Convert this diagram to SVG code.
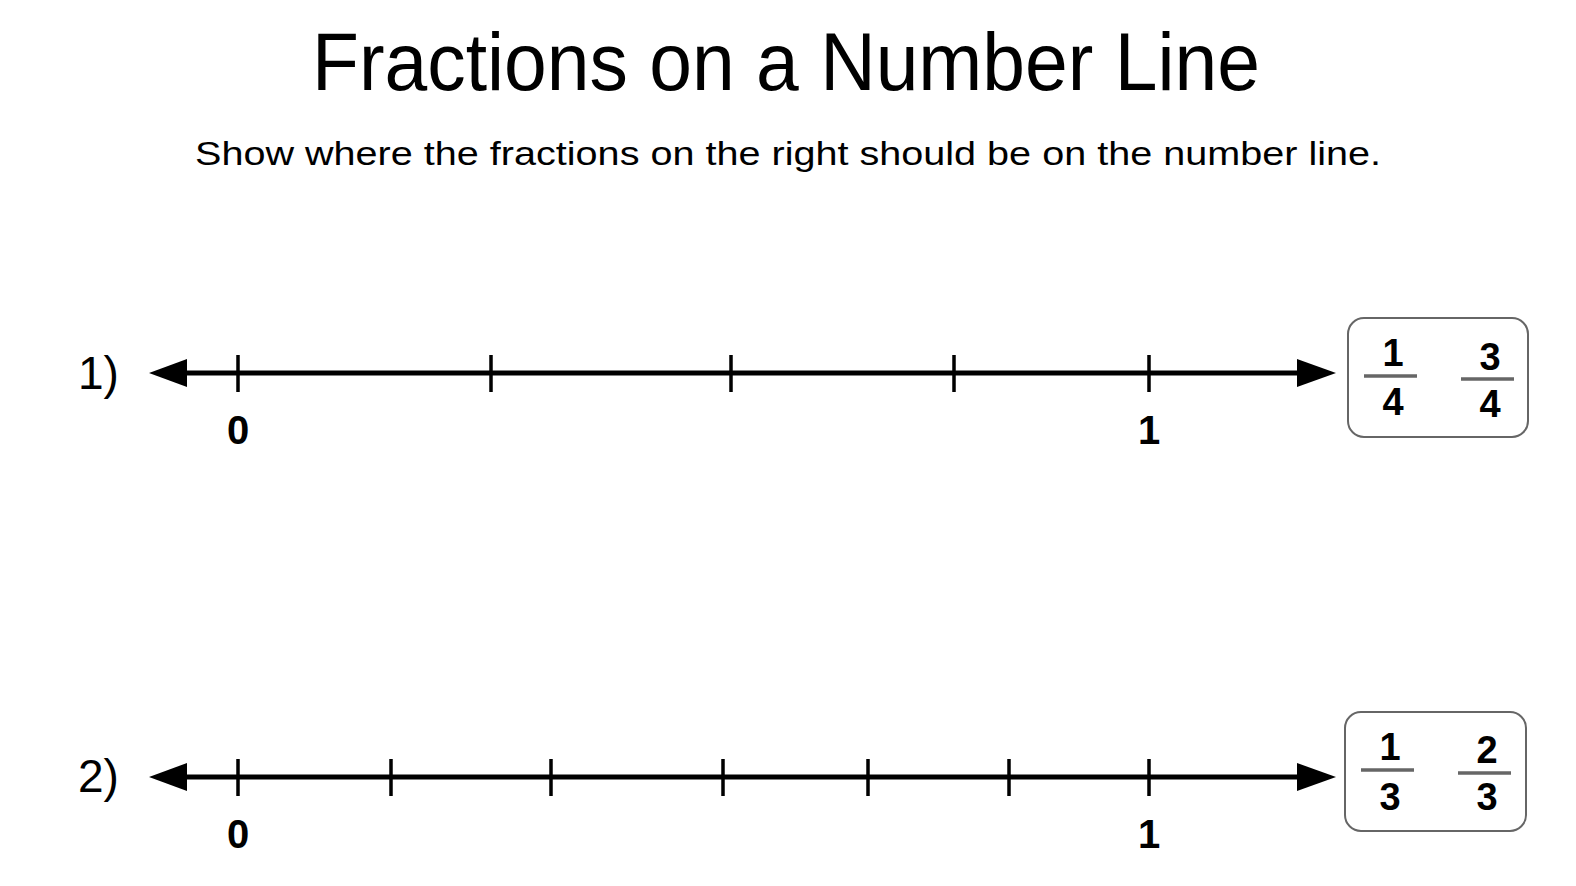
<svg xmlns="http://www.w3.org/2000/svg" width="1576" height="886" viewBox="0 0 1576 886">
<defs>
<style>
.title{font-family:"Liberation Sans",Arial,sans-serif;font-size:82px;fill:#000;text-anchor:middle}
.sub{font-family:"Liberation Sans",Arial,sans-serif;font-size:33px;fill:#000;text-anchor:middle}
.num{font-family:"Liberation Sans",Arial,sans-serif;font-size:46px;fill:#000}
.lbl{font-family:"Liberation Sans",Arial,sans-serif;font-size:40px;font-weight:bold;fill:#000;text-anchor:middle}
.frac{font-family:"Liberation Sans",Arial,sans-serif;font-size:38px;font-weight:bold;fill:#000;text-anchor:middle}
.axis{stroke:#000;stroke-width:5;fill:none}
.tick{stroke:#000;stroke-width:3.5;fill:none}
.bar{stroke:#666;stroke-width:3.5}
.box{fill:#fff;stroke:#666;stroke-width:2}
.head{fill:#000}
</style>
</defs>
<rect width="1576" height="886" fill="#fff"/>
<g id="title">
<text class="title" x="786" y="90" textLength="948" lengthAdjust="spacingAndGlyphs">Fractions on a Number Line</text>
<text class="sub" x="788" y="165" textLength="1186" lengthAdjust="spacingAndGlyphs">Show where the fractions on the right should be on the number line.</text>
</g>
<g id="connectors">
<line class="axis" x1="180" y1="373" x2="1302" y2="373"/>
<polygon class="head" points="149,373 187,359 187,387"/>
<polygon class="head" points="1336,373 1297,359 1297,387"/>
<line class="axis" x1="180" y1="777" x2="1302" y2="777"/>
<polygon class="head" points="149,777 187,763 187,791"/>
<polygon class="head" points="1336,777 1297,763 1297,791"/>
</g>
<g id="line1">
<text class="num" x="78" y="389">1)</text>
<path class="tick" d="M238,355V392M491,355V392M731,355V392M954,355V392M1149,355V392"/>
<text class="lbl" x="238" y="444">0</text>
<text class="lbl" x="1149" y="444">1</text>
</g>
<g id="box1">
<rect class="box" x="1348" y="318" width="180" height="119" rx="16"/>
<text class="frac" x="1393" y="366">1</text>
<line class="bar" x1="1364" y1="376" x2="1417" y2="376"/>
<text class="frac" x="1393" y="415">4</text>
<text class="frac" x="1490" y="370">3</text>
<line class="bar" x1="1461" y1="379" x2="1514" y2="379"/>
<text class="frac" x="1490" y="417">4</text>
</g>
<g id="line2">
<text class="num" x="78" y="792">2)</text>
<path class="tick" d="M238,759V796M391,759V796M551,759V796M723,759V796M868,759V796M1009,759V796M1149,759V796"/>
<text class="lbl" x="238" y="848">0</text>
<text class="lbl" x="1149" y="848">1</text>
</g>
<g id="box2">
<rect class="box" x="1345" y="712" width="181" height="119" rx="16"/>
<text class="frac" x="1390" y="760">1</text>
<line class="bar" x1="1361" y1="770" x2="1414" y2="770"/>
<text class="frac" x="1390" y="810">3</text>
<text class="frac" x="1487" y="763">2</text>
<line class="bar" x1="1458" y1="773" x2="1511" y2="773"/>
<text class="frac" x="1487" y="810">3</text>
</g>
</svg>
